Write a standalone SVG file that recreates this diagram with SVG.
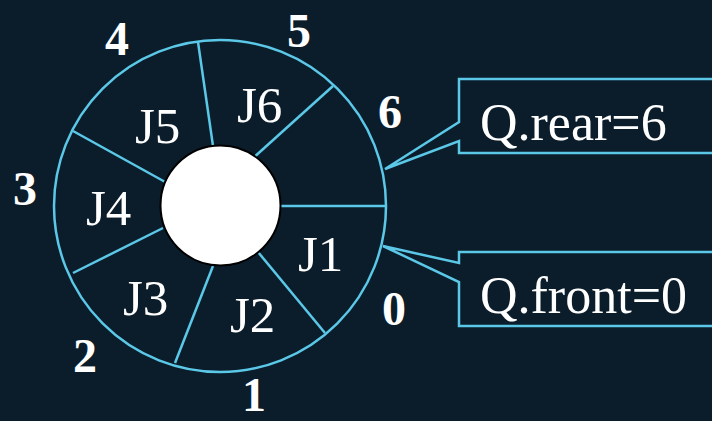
<svg xmlns="http://www.w3.org/2000/svg" width="712" height="421" viewBox="0 0 712 421">
<style>
.ln{stroke:#5bc8e8;stroke-width:2.5;fill:none}
.box{stroke:#5bc8e8;stroke-width:2.5;fill:#0b1d2b}
.j{font-family:"Liberation Serif",serif;font-size:51px;fill:#ffffff}
.n{font-family:"Liberation Serif",serif;font-size:48px;font-weight:bold;fill:#ffffff}
.q{font-family:"Liberation Serif",serif;font-size:52px;fill:#ffffff}
</style>
<rect width="712" height="421" fill="#0b1d2b"/>
<g id="ring">
<circle class="ln" cx="220" cy="206" r="166"/>
</g>
<g id="connectors">
<line class="ln" x1="281" y1="206" x2="386" y2="206"/>
<line class="ln" x1="258" y1="252" x2="325" y2="333"/>
<line class="ln" x1="213" y1="266" x2="175" y2="363"/>
<line class="ln" x1="163" y1="228" x2="73" y2="273"/>
<line class="ln" x1="167" y1="183" x2="73" y2="131"/>
<line class="ln" x1="213" y1="146" x2="198" y2="42"/>
<line class="ln" x1="251" y1="160" x2="333" y2="86"/>
</g>
<g id="hub">
<circle cx="220.5" cy="205.5" r="60" fill="#ffffff" stroke="#000000" stroke-width="2"/>
</g>
<g id="slots">
<text class="j" x="298" y="271">J1</text>
<text class="j" x="230" y="332">J2</text>
<text class="j" x="123" y="315">J3</text>
<text class="j" x="86" y="225">J4</text>
<text class="j" x="135" y="143">J5</text>
<text class="j" x="237" y="122">J6</text>
</g>
<g id="indices">
<text class="n" x="382" y="325">0</text>
<text class="n" x="242" y="411">1</text>
<text class="n" x="73" y="372">2</text>
<text class="n" x="13" y="205">3</text>
<text class="n" x="105" y="55">4</text>
<text class="n" x="287" y="47">5</text>
<text class="n" x="378" y="128">6</text>
</g>
<g id="rear">
<path class="box" d="M459 79 H720 V153 H459 V141 L385 169 L459 122 Z"/>
<text class="q" x="480" y="140">Q.rear=6</text>
</g>
<g id="front">
<path class="box" d="M459 252 H720 V326 H459 V282 L383 246 L459 263 Z"/>
<text class="q" x="480" y="313">Q.front=0</text>
</g>
</svg>
